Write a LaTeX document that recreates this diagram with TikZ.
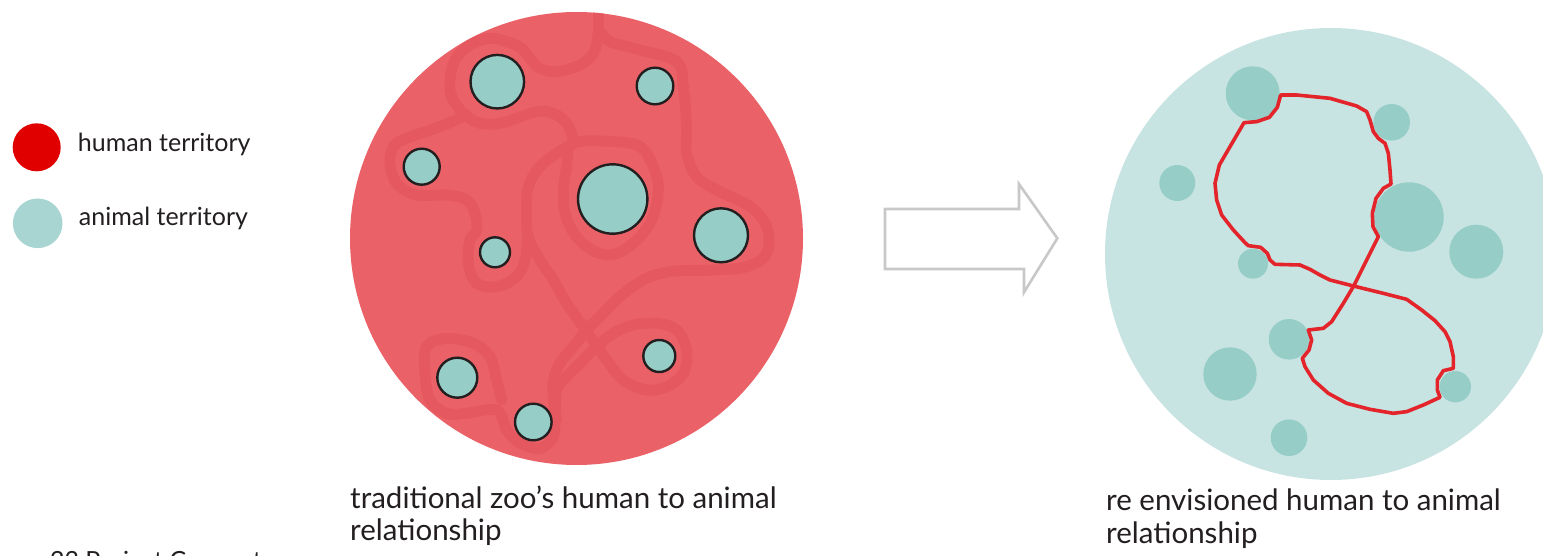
\documentclass[tikz,border=0pt]{standalone}
\usepackage{fontspec}
\setmainfont{Lato}
\definecolor{zoored}{HTML}{EA6267}
\definecolor{zoopath}{HTML}{E6585F}
\definecolor{animal}{HTML}{96CDC6}
\definecolor{paleteal}{HTML}{C8E4E2}
\definecolor{legred}{HTML}{E10000}
\definecolor{legteal}{HTML}{A8D5D2}
\definecolor{humanline}{HTML}{E3242B}
\definecolor{arrowgray}{HTML}{C8C8C8}
\definecolor{txt}{HTML}{231F20}
\tikzset{
  cagedot/.style={fill=animal, draw=txt, line width=2.4pt},
  freedot/.style={fill=animal},
  oldpath/.style={draw=zoopath, line width=11pt, line join=round, line cap=round},
  newpath/.style={draw=humanline, line width=3.6pt, line join=round, line cap=round},
  captext/.style={font=\fontsize{29.5}{34}\selectfont, text=txt, inner sep=0pt},
  figtext/.style={font=\fontsize{25}{30}\selectfont, text=txt, inner sep=0pt},
  legtext/.style={font=\fontsize{25}{30}\selectfont, text=txt, inner sep=0pt, anchor=base west},
}
\begin{document}
\begin{tikzpicture}[x=1pt,y=-1pt]
\useasboundingbox (0,0) rectangle (1543,556);
\clip (0,0) rectangle (1543,556);
\fill[white] (0,0) rectangle (1543,556);

% legend
\fill[legred] (36.7,147.3) circle (24);
\fill[legteal] (37.7,223.3) circle (24.8);
\node[legtext] (leghuman) at (77.7,151.7) {human territory};
\node[legtext] (legani) at (78.7,226) {animal territory};

% left circle
\fill[zoored] (576.5,238.5) circle (226.5);
\begin{scope}[shift={(340,0)}, scale=1/3]
\begin{scope}
\clip (709.5,715.5) circle (679.5);
\draw[oldpath] plot[smooth, tension=0.6] coordinates {(775,20) (775,95) (760,160) (720,195) (650,215) (600,205) (570,175) (545,145) (500,125) (450,115) (390,135) (345,180) (330,240) (335,290) (370,340) (420,370) (480,370) (530,355) (590,335) (640,340) (680,370) (700,420)};
\draw[oldpath] plot[smooth, tension=0.6] coordinates {(700,430) (650,460) (600,500) (565,560) (560,640) (565,710) (600,780) (640,840) (680,910) (730,980) (765,1030) (800,1080) (850,1140) (920,1170) (980,1160) (1030,1120) (1040,1050) (1010,990) (950,970) (880,975) (820,1000) (770,1040) (720,1090) (680,1130) (650,1170) (645,1250) (640,1310) (600,1345) (540,1330) (500,1290) (470,1230) (380,1240) (320,1240) (270,1200) (255,1120) (260,1040) (320,1015) (400,1030) (450,1070) (470,1140) (485,1200)};
\draw[oldpath] plot[smooth, tension=0.6] coordinates {(380,345) (300,380) (200,415) (160,440) (150,490) (170,550) (230,585) (320,585) (380,600) (405,640) (410,690) (390,720) (385,790) (410,850) (470,860) (530,830) (555,780) (562,720)};
\draw[oldpath] plot[smooth, tension=0.6] coordinates {(785,100) (810,125) (900,150) (1010,185) (1030,260) (1040,380) (1040,460) (1070,530) (1130,570) (1230,620) (1280,680) (1280,760) (1220,800) (1120,810) (990,815) (910,840) (840,890) (780,950) (740,990) (700,1040) (660,1090) (640,1140) (640,1200) (650,1260)};
\draw[oldpath] plot[smooth cycle, tension=0.6] coordinates {(700,430) (820,425) (900,440) (940,500) (955,570) (935,660) (880,730) (810,765) (740,740) (690,680) (670,600) (680,500)};
\end{scope}
\end{scope}
\filldraw[cagedot] (497.3,81.7) circle (26.8);
\filldraw[cagedot] (655,86) circle (18.3);
\filldraw[cagedot] (421.7,166.7) circle (18);
\filldraw[cagedot] (612.7,199) circle (34.7);
\filldraw[cagedot] (721,235.3) circle (27);
\filldraw[cagedot] (495,252.3) circle (15);
\filldraw[cagedot] (659.3,356) circle (16);
\filldraw[cagedot] (457.3,377.7) circle (20);
\filldraw[cagedot] (533.3,422) circle (18.3);

% arrow
\draw[arrowgray, line width=2.6pt, line join=miter] (885,209) -- (1019,209) -- (1019,184) -- (1057.3,238.3) -- (1024,292.3) -- (1024,269) -- (885,269) -- cycle;

% right circle
\fill[paleteal] (1331,254) circle (226);
\fill[freedot] (1252.7,93.3) circle (27);
\fill[freedot] (1391.7,122.3) circle (18.3);
\fill[freedot] (1177.3,183) circle (18);
\fill[freedot] (1409,217) circle (34.7);
\fill[freedot] (1476.3,251.7) circle (27);
\fill[freedot] (1253,263.7) circle (15);
\fill[freedot] (1289,339.3) circle (20.3);
\fill[freedot] (1230,374) circle (26.7);
\fill[freedot] (1455.3,386.7) circle (15.7);
\fill[freedot] (1289,437.7) circle (18.3);
\begin{scope}[shift={(1090,0)}, scale=1/3]
\draw[newpath] (572,285) -- (620,285) -- (720,295) -- (800,318) -- (830,335) -- (840,360) -- (850,395) -- (865,415) -- (885,430) -- (895,460) -- (900,510) -- (903,552) -- (880,565) -- (858,595) -- (847,640) -- (849,680) -- (865,710) -- (830,780) -- (790,860) -- (760,910) -- (725,965) -- (700,985) -- (655,990) -- (665,1020) -- (657,1050) -- (637,1075) -- (645,1100) -- (670,1140) -- (715,1180) -- (770,1210) -- (840,1228) -- (910,1240) -- (950,1235) -- (1000,1215) -- (1050,1192) -- (1042,1170) -- (1042,1140) -- (1060,1112) -- (1090,1105) -- (1090,1070) -- (1080,1025) -- (1065,995) -- (1035,962) -- (995,930) -- (950,898) -- (880,880) -- (790,858) -- (720,840) -- (690,825) -- (660,808) -- (630,795) -- (555,793) -- (540,780) -- (532,760) -- (512,742) -- (475,737) -- (465,728) -- (430,690) -- (395,645) -- (380,600) -- (375,550) -- (388,495) -- (420,440) -- (462,368) -- (500,365) -- (538,352) -- (562,322) -- (572,285);
\end{scope}

% captions
\node[captext, anchor=base west] (capl1) at (350,508.3) {traditional zoo’s human to animal};
\node[captext, anchor=base west] (capl2) at (350,540.5) {relationship};
\node[captext, anchor=base west] (capr1) at (1106,510.5) {re envisioned human to animal};
\node[captext, anchor=base west] (capr2) at (1106,543) {relationship};
\node[figtext, anchor=base east] (figcap) at (262,569) {Figure 23 Project Concept};
\end{tikzpicture}
\end{document}
